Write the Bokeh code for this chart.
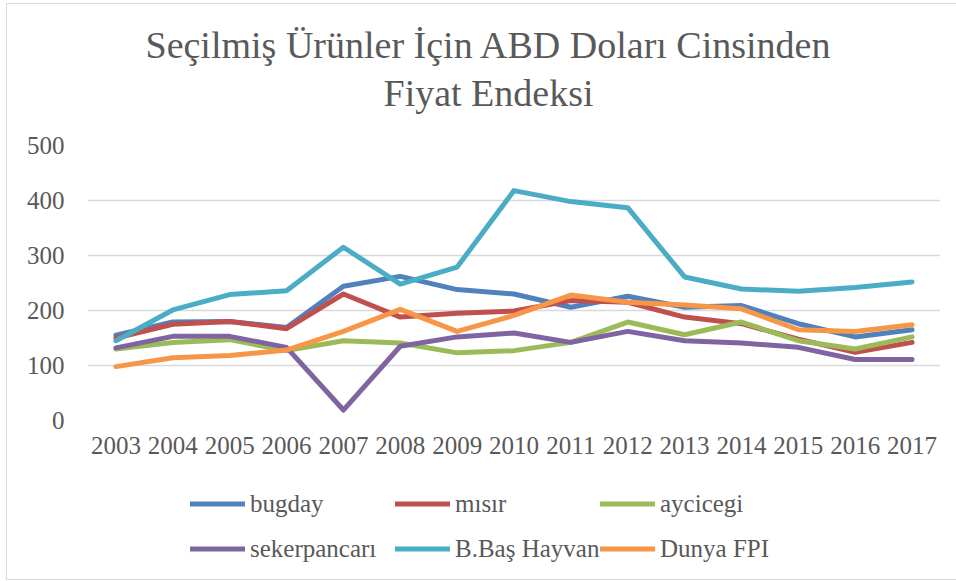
from bokeh.plotting import figure
from bokeh.layouts import column
from bokeh.models import FactorRange, Range1d, Legend, LegendItem, FixedTicker, Title
from bokeh.embed import file_html
from bokeh.resources import INLINE

years = ["2003", "2004", "2005", "2006", "2007", "2008", "2009", "2010",
         "2011", "2012", "2013", "2014", "2015", "2016", "2017"]

bugday = [155, 179, 180, 169, 244, 262, 238, 230, 206, 226, 206, 209, 176, 152, 165]
misir = [150, 175, 180, 167, 230, 188, 195, 199, 218, 215, 188, 176, 148, 124, 142]
aycicegi = [130, 142, 147, 127, 145, 141, 123, 127, 142, 179, 156, 179, 145, 130, 152]
sekerpancari = [132, 153, 153, 133, 19, 135, 152, 159, 142, 162, 145, 141, 133, 111, 111]
bbas_hayvan = [145, 201, 229, 236, 315, 248, 279, 418, 398, 387, 261, 239, 235, 242, 252]
dunya_fpi = [98, 114, 118, 128, 162, 202, 162, 191, 228, 215, 210, 203, 165, 162, 174]

series = [
    ("bugday", bugday, "#4F81BD"),
    ("mısır", misir, "#C0504D"),
    ("aycicegi", aycicegi, "#9BBB59"),
    ("sekerpancarı", sekerpancari, "#8064A2"),
    ("B.Baş Hayvan", bbas_hayvan, "#4BACC6"),
    ("Dunya FPI", dunya_fpi, "#F79646"),
]

y_ticks = [0, 100, 200, 300, 400, 500]
title_line1 = "Seçilmiş Ürünler İçin ABD Doları Cinsinden"
title_line2 = "Fiyat Endeksi"

FONT = "Liberation Serif"
TXT = "#595959"

p = figure(width=949, height=466, x_range=FactorRange(*years, range_padding=0),
           y_range=Range1d(0, 500), output_backend="svg", toolbar_location=None,
           title=None,
           min_border_left=80, min_border_right=16, min_border_top=141,
           min_border_bottom=50)
p.outline_line_color = None
p.background_fill_color = "white"
p.border_fill_color = "white"

p.xgrid.grid_line_color = None
p.ygrid.grid_line_color = "#d9d9d9"
p.ygrid.grid_line_width = 1.5
p.yaxis.ticker = FixedTicker(ticks=y_ticks)

for ax in (p.xaxis[0], p.yaxis[0]):
    ax.axis_line_color = None
    ax.major_tick_line_color = None
    ax.minor_tick_line_color = None
    ax.major_tick_out = 0
    ax.major_tick_in = 0
    ax.major_label_text_font = FONT
    ax.major_label_text_font_size = "25px"
    ax.major_label_text_color = TXT
p.yaxis.major_label_standoff = 23
p.xaxis.major_label_standoff = 16

for name, vals, color in series:
    p.line(x=years, y=vals, line_color=color, line_width=5, line_cap="round",
           line_join="round")

# spacer between frame and title, then the two title lines
p.add_layout(Title(text=" ", text_font_size="10px", standoff=18,
                   text_color="white"), "above")
p.add_layout(Title(text=title_line2, align="left", offset=296, standoff=2,
                   text_font=FONT, text_font_size="38px", text_font_style="normal",
                   text_color=TXT), "above")
p.add_layout(Title(text=title_line1, align="left", offset=58, standoff=6,
                   text_font=FONT, text_font_size="38px", text_font_style="normal",
                   text_color=TXT), "above")

# legend panel below the chart (series drawn outside its range, only the legend shows)
lf = figure(width=949, height=109, x_range=Range1d(0, 1), y_range=Range1d(0, 1),
            output_backend="svg", toolbar_location=None, title=None,
            min_border=0, min_border_left=0, min_border_right=0,
            min_border_top=0, min_border_bottom=0)
lf.axis.visible = False
lf.grid.visible = False
lf.outline_line_color = None
lf.background_fill_color = "white"
lf.border_fill_color = "white"

items = []
for name, vals, color in series:
    r = lf.line(x=list(range(len(vals))), y=vals, line_color=color, line_width=5,
                line_cap="round")
    items.append(LegendItem(label=name, renderers=[r]))

legend = Legend(items=items, ncols=3, orientation="horizontal", location=(103, 8),
                glyph_width=55, glyph_height=45, label_height=45, label_width=145,
                label_standoff=5, spacing=0, padding=0, margin=0,
                border_line_color=None, background_fill_alpha=0,
                label_text_font=FONT, label_text_font_size="25px",
                label_text_color=TXT)
lf.add_layout(legend, "center")

layout = column(p, lf, spacing=0)
layout.margin = (3, 0, 0, 6)
layout.styles = {"border-top": "1px solid #d9d9d9", "border-left": "1px solid #d9d9d9",
                 "border-bottom": "1px solid #d9d9d9"}

open("out.html", "w").write(file_html(layout, INLINE))
